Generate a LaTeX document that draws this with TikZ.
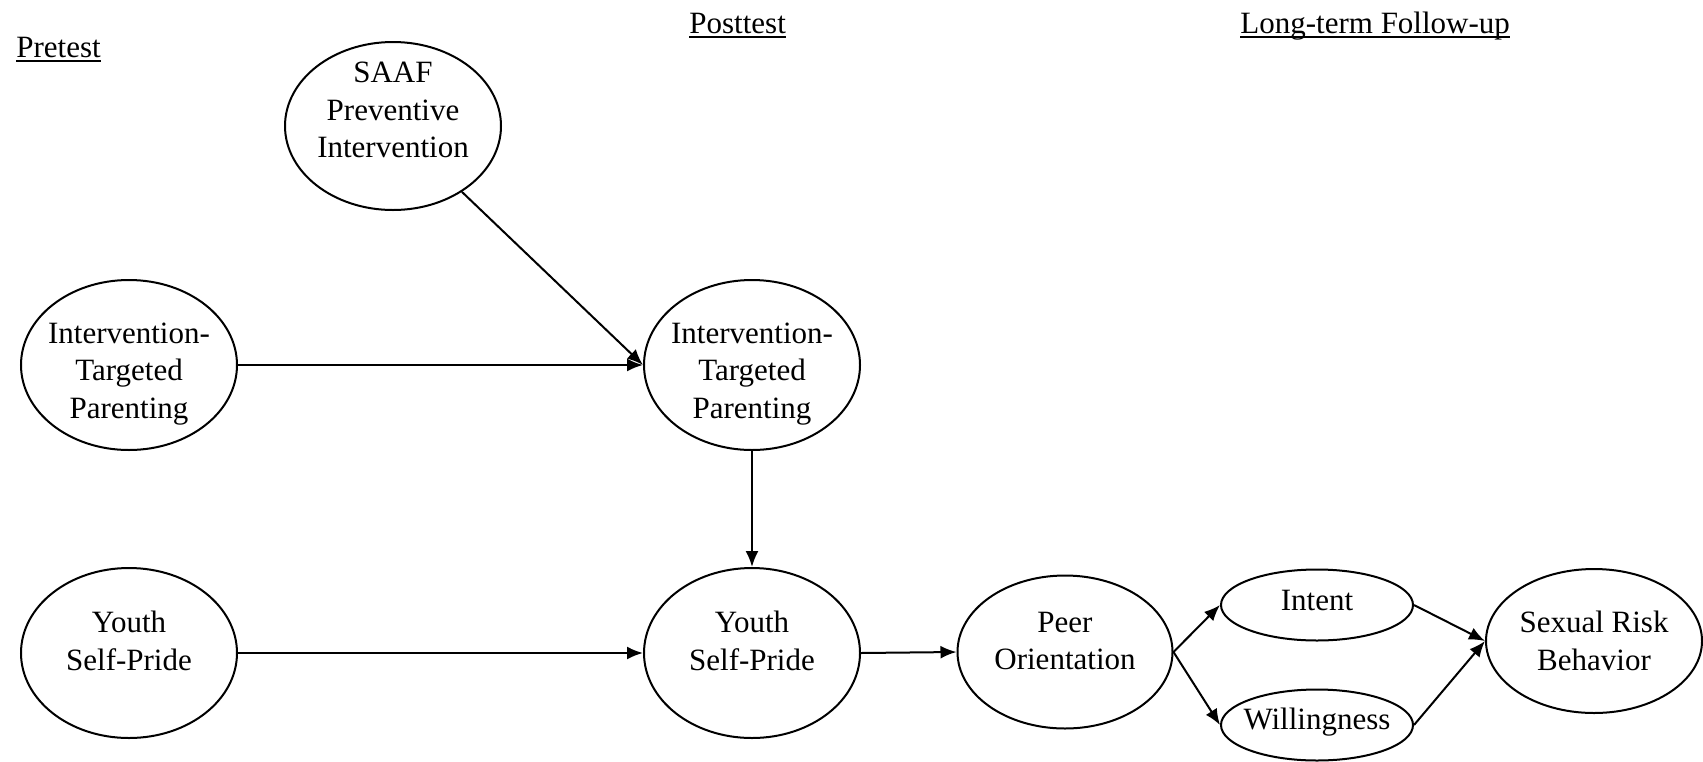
\documentclass[tikz,border=0pt]{standalone}
\usepackage{fontspec}
\setmainfont{Liberation Serif}
\usepackage{tikz}
\usetikzlibrary{shapes,arrows.meta}

\newcommand{\undertext}[1]{\setbox0\hbox{#1}\rlap{\rule[-2.6pt]{\wd0}{0.9pt}}\box0}

\begin{document}
\begin{tikzpicture}[x=0.5pt,y=-0.5pt,
	var/.style 2 args={ellipse, draw, line width=1pt, inner sep=0pt, minimum width=#1, minimum height=#2},
	lbl/.style={align=center, inner sep=0pt, font=\fontsize{15.5}{18.75}\selectfont},
	link/.style={-{Latex[length=8pt,width=6.5pt]}, line width=1pt}]

\useasboundingbox (0,0) rectangle (1703,761);

%--momenti di misura
\node [lbl, anchor=base west] (pretest) at (16,57) {\undertext{Pretest}};
\node [lbl, anchor=base west] (posttest) at (689,33) {\undertext{Posttest}};
\node [lbl, anchor=base west] (followup) at (1240,33) {\undertext{Long-term Follow-up}};

%--intervento
\node [var={108pt}{84pt}] (saaf) at (393,126) {};
\node [lbl] (saaftext) at (393,110) {SAAF\\Preventive\\Intervention};

%--parenting pre e post
\node [var={108pt}{85pt}] (itpA) at (129,365) {};
\node [lbl] (itpAtext) at (129,374) {Intervention-\\Targeted\\Parenting};
\node [var={108pt}{85pt}] (itpB) at (752,365) {};
\node [lbl] (itpBtext) at (752,374) {Intervention-\\Targeted\\Parenting};

%--self-pride pre e post
\node [var={108pt}{85pt}] (youthA) at (129,653) {};
\node [lbl] (youthAtext) at (129,641) {Youth\\Self-Pride};
\node [var={108pt}{85pt}] (youthB) at (752,653) {};
\node [lbl] (youthBtext) at (752,641) {Youth\\Self-Pride};

%--follow-up
\node [var={107.5pt}{76.5pt}] (peer) at (1065,652) {};
\node [lbl] (peertext) at (1065,641) {Peer\\Orientation};
\node [var={96pt}{35.5pt}] (intent) at (1317,605) {};
\node [lbl] (intenttext) at (1317,600) {Intent};
\node [var={96pt}{35.5pt}] (will) at (1317,725) {};
\node [lbl] (willtext) at (1317,722) {Willingness};
\node [var={108pt}{72pt}] (srb) at (1594,641) {};
\node [lbl] (srbtext) at (1594,641) {Sexual Risk\\Behavior};

\draw[link] (saaf) -- (itpB.west);
\draw[link] (itpA.east) -- (itpB.west);
\draw[link] (itpB.south) -- (youthB.north);
\draw[link] (youthA.east) -- (youthB.west);
\draw[link] (youthB.east) -- (peer.west);
\draw[link] (peer.east) -- (intent.west);
\draw[link] (peer.east) -- (will.west);
\draw[link] (intent.east) -- (srb.west);
\draw[link] (will.east) -- (srb.west);

\end{tikzpicture}
\end{document}
